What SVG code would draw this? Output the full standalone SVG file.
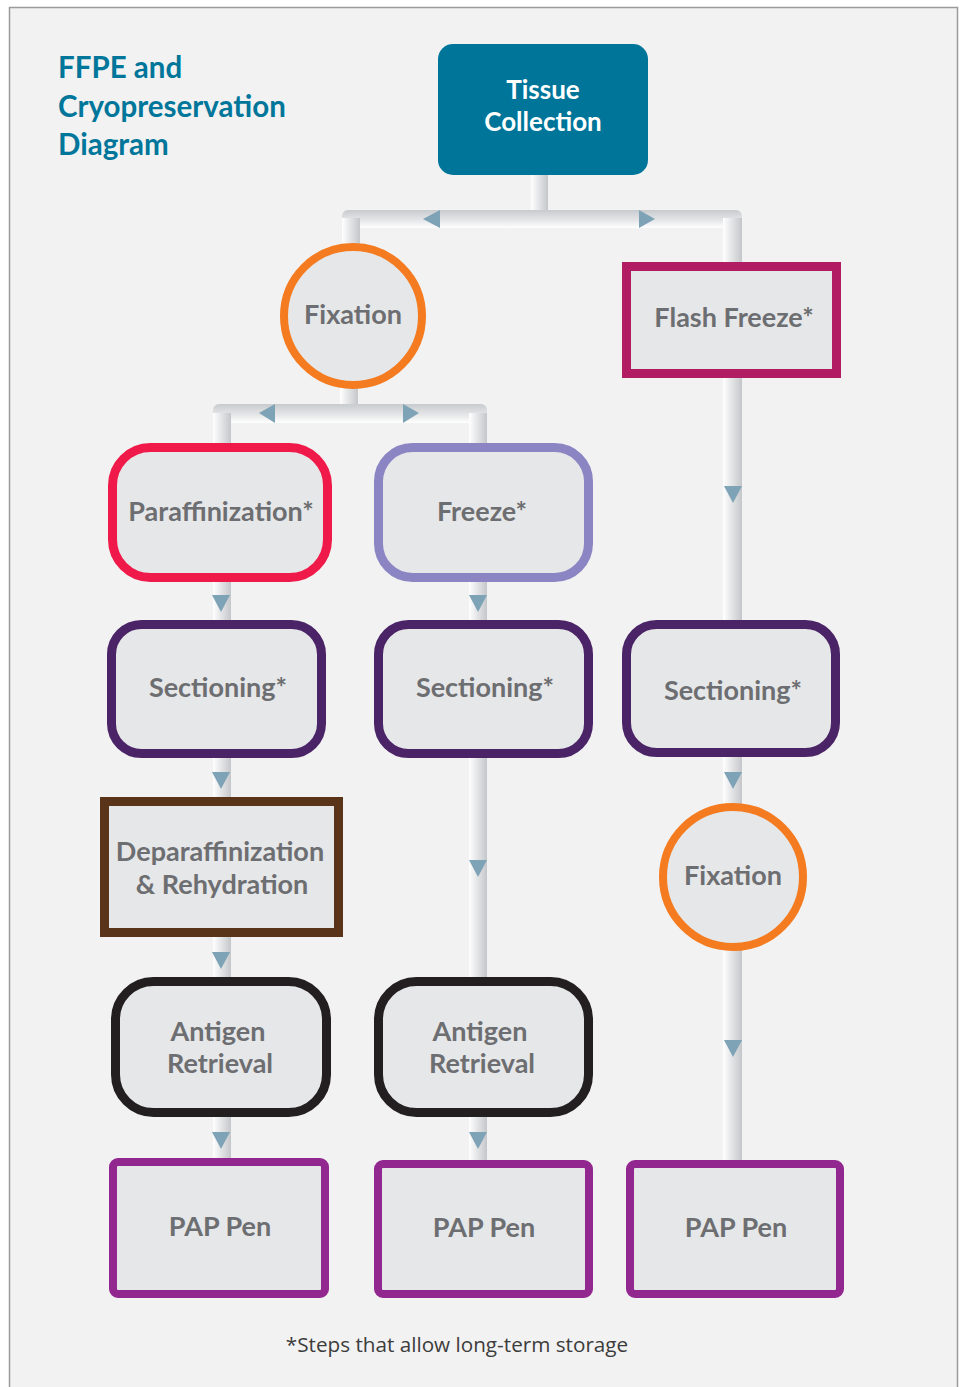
<svg xmlns="http://www.w3.org/2000/svg" width="964" height="1387" viewBox="0 0 964 1387">
<defs>
<linearGradient id="gv" x1="0" y1="0" x2="1" y2="0">
<stop offset="0" stop-color="#ffffff"/>
<stop offset="0.45" stop-color="#e4e5e7"/>
<stop offset="1" stop-color="#c4c7ca"/>
</linearGradient>
<linearGradient id="gh" x1="0" y1="0" x2="0" y2="1">
<stop offset="0" stop-color="#c8cbce"/>
<stop offset="0.55" stop-color="#e4e5e7"/>
<stop offset="1" stop-color="#ffffff"/>
</linearGradient>
<style>
.pv{fill:url(#gv)}
.ph{fill:url(#gh)}
.ar{fill:#7fa3b6}
.nf{fill:#e6e7e8}
.lbl{font-family:Lato,"Liberation Sans",sans-serif;font-weight:bold;font-size:27px;fill:#6d6e71;text-anchor:middle}
.ttl{font-family:Lato,"Liberation Sans",sans-serif;font-weight:bold;font-size:29.5px;fill:#00769a}
.wh{font-family:Lato,"Liberation Sans",sans-serif;font-weight:bold;font-size:26px;fill:#ffffff;text-anchor:middle}
.fn{font-family:"Open Sans","Liberation Sans",sans-serif;font-size:20.7px;fill:#3c3c3c;text-anchor:middle}
</style>
</defs>
<rect x="0" y="0" width="964" height="1387" fill="#ffffff"/>
<rect x="9.5" y="7.5" width="948" height="1400" fill="#f2f2f2" stroke="#9a9a9a" stroke-width="1.5"/>

<g id="title">
<text class="ttl" x="58" y="78">FFPE and</text>
<text class="ttl" x="58" y="117">Cryopreservation</text>
<text class="ttl" x="58" y="155">Diagram</text>
</g>

<g id="connectors">
<rect class="pv" x="531" y="170" width="17" height="45"/>
<rect class="ph" x="342" y="210" width="400" height="18" rx="6"/>
<rect class="pv" x="342" y="218" width="18" height="40"/>
<rect class="pv" x="723" y="218" width="19" height="950"/>
<polygon class="ar" points="423,219 440,210 440,228"/>
<polygon class="ar" points="655,219 639,210 639,228"/>
<rect class="pv" x="340" y="385" width="18" height="22"/>
<rect class="ph" x="213" y="404" width="274" height="19" rx="6"/>
<rect class="pv" x="213" y="413" width="18" height="750"/>
<rect class="pv" x="469" y="413" width="18" height="750"/>
<polygon class="ar" points="259,413 275,404 275,423"/>
<polygon class="ar" points="419,413 403,404 403,423"/>
<polygon class="ar" points="212,595 230,595 221,612"/>
<polygon class="ar" points="212,772 230,772 221,789"/>
<polygon class="ar" points="212,952 230,952 221,969"/>
<polygon class="ar" points="212,1132 230,1132 221,1149"/>
<polygon class="ar" points="469,595 487,595 478,612"/>
<polygon class="ar" points="469,860 487,860 478,877"/>
<polygon class="ar" points="469,1132 487,1132 478,1149"/>
<polygon class="ar" points="724,486 742,486 733,503"/>
<polygon class="ar" points="724,772 742,772 733,789"/>
<polygon class="ar" points="724,1040 742,1040 733,1057"/>
</g>

<g id="tissue-collection">
<rect x="438" y="44" width="210" height="131" rx="15" fill="#00759a"/>
<text class="wh" x="543" y="99">Tissue</text>
<text class="wh" x="543" y="131">Collection</text>
</g>

<g id="fixation-1">
<circle cx="353" cy="316" r="69" class="nf" stroke="#f47b20" stroke-width="8"/>
<text class="lbl" x="353" y="324">Fixation</text>
</g>

<g id="flash-freeze">
<rect x="626.5" y="266.5" width="210" height="107" class="nf" stroke="#b21c62" stroke-width="9"/>
<text class="lbl" x="734" y="327">Flash Freeze*</text>
</g>

<g id="paraffinization">
<rect x="112.5" y="447.5" width="215" height="130" rx="38" class="nf" stroke="#ef1a49" stroke-width="9"/>
<text class="lbl" x="221" y="521">Paraffinization*</text>
</g>

<g id="freeze">
<rect x="378.5" y="447.5" width="210" height="130" rx="34" class="nf" stroke="#8b86c3" stroke-width="9"/>
<text class="lbl" x="482" y="521">Freeze*</text>
</g>

<g id="sectioning-1">
<rect x="111.5" y="624.5" width="210" height="129" rx="30" class="nf" stroke="#4b2467" stroke-width="9"/>
<text class="lbl" x="218" y="697">Sectioning*</text>
</g>

<g id="sectioning-2">
<rect x="378.5" y="624.5" width="210" height="129" rx="30" class="nf" stroke="#4b2467" stroke-width="9"/>
<text class="lbl" x="485" y="697">Sectioning*</text>
</g>

<g id="sectioning-3">
<rect x="626.5" y="624.5" width="209" height="128" rx="30" class="nf" stroke="#4b2467" stroke-width="9"/>
<text class="lbl" x="733" y="700">Sectioning*</text>
</g>

<g id="deparaffinization">
<rect x="104.5" y="801.5" width="234" height="131" class="nf" stroke="#5a3419" stroke-width="9"/>
<text class="lbl" x="220" y="861">Deparaffinization</text>
<text class="lbl" x="222" y="894">&amp; Rehydration</text>
</g>

<g id="fixation-2">
<circle cx="733" cy="877" r="70" class="nf" stroke="#f47b20" stroke-width="8"/>
<text class="lbl" x="733" y="885">Fixation</text>
</g>

<g id="antigen-retrieval-1">
<rect x="115.5" y="981.5" width="211" height="131" rx="38" class="nf" stroke="#231f20" stroke-width="9"/>
<text class="lbl" x="218" y="1041">Antigen</text>
<text class="lbl" x="220" y="1073">Retrieval</text>
</g>

<g id="antigen-retrieval-2">
<rect x="378.5" y="981.5" width="210" height="131" rx="38" class="nf" stroke="#231f20" stroke-width="9"/>
<text class="lbl" x="480" y="1041">Antigen</text>
<text class="lbl" x="482" y="1073">Retrieval</text>
</g>

<g id="pap-pen-1">
<rect x="113" y="1162" width="212" height="132" rx="5" class="nf" stroke="#92278f" stroke-width="8"/>
<text class="lbl" x="220" y="1236">PAP Pen</text>
</g>

<g id="pap-pen-2">
<rect x="378" y="1164" width="211" height="130" rx="5" class="nf" stroke="#92278f" stroke-width="8"/>
<text class="lbl" x="484" y="1237">PAP Pen</text>
</g>

<g id="pap-pen-3">
<rect x="630" y="1164" width="210" height="130" rx="5" class="nf" stroke="#92278f" stroke-width="8"/>
<text class="lbl" x="736" y="1237">PAP Pen</text>
</g>

<g id="footnote">
<text class="fn" x="457" y="1352">*Steps that allow long-term storage</text>
</g>
</svg>
